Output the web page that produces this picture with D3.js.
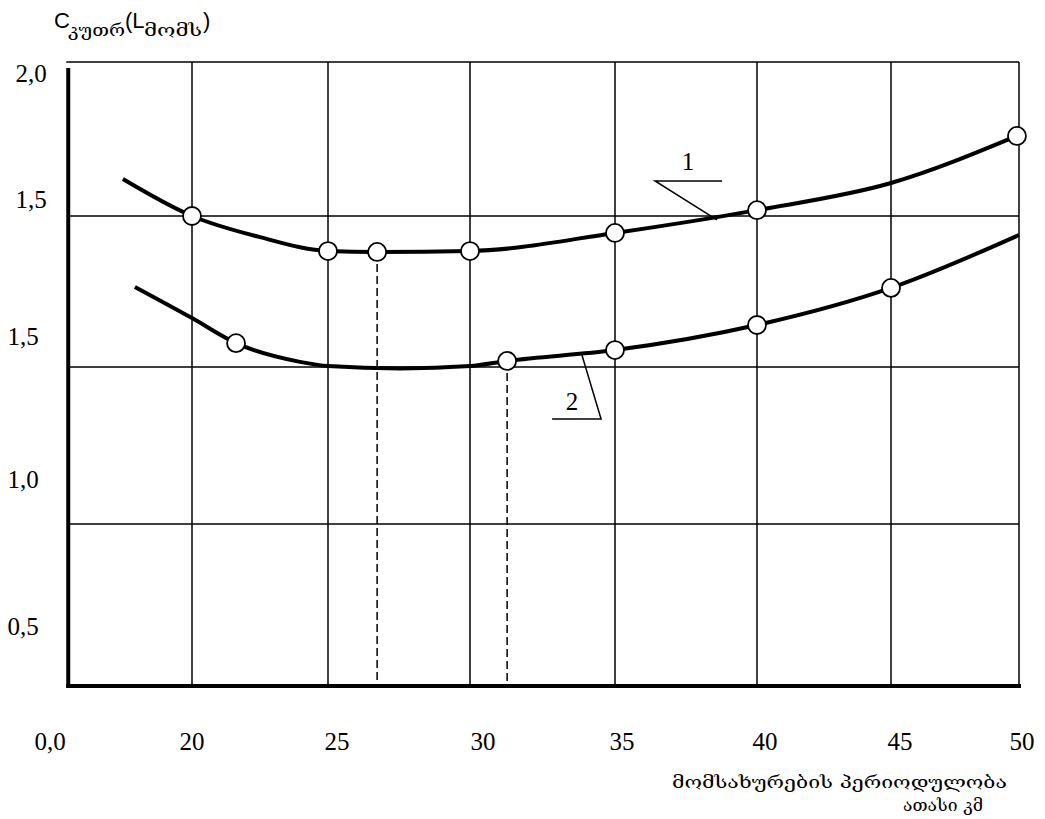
<!DOCTYPE html>
<html>
<head>
<meta charset="utf-8">
<script src="https://cdn.jsdelivr.net/npm/d3@7/dist/d3.min.js"></script>
<style>
  html, body { margin: 0; padding: 0; background: #fff; }
  svg { display: block; }
</style>
</head>
<body>
<svg id="chart" width="1045" height="819"></svg>
<script>
// ---------------- data ----------------
const xGridValues = [20, 25, 30, 35, 40, 45];
const xFrame = [15.45, 50];
const yGridValues = [0.5, 1.0, 1.5];
const yFrame = [0, 2];

const xTickLabels = ["0,0", "20", "25", "30", "35", "40", "45", "50"];
const xTickAt     = [14.78, 20, 25.32, 30.45, 35.25, 40.3, 45.35, 50.12];
const xLabelLevel = -0.197;

const yTickLabels = ["2,0", "1,5", "1,5", "1,0", "0,5"];
const yTickAt     = [1.935, 1.526, 1.073, 0.615, 0.157];

const curve1X      = [17.46, 20, 22.5, 25, 26.73, 30, 35, 40, 45, 49.92];
const curve1Y      = [1.62, 1.50, 1.43, 1.384, 1.381, 1.384, 1.444, 1.519, 1.607, 1.76];
const curve1Marked = [0, 1, 0, 1, 1, 1, 1, 1, 0, 1];

const curve2X      = [17.9, 20, 21.62, 23.97, 25, 27.54, 30, 31.28, 35, 40, 45, 50];
const curve2Y      = [1.265, 1.162, 1.079, 1.017, 1.003, 0.995, 1.003, 1.02, 1.056, 1.139, 1.262, 1.437];
const curve2Marked = [0, 0, 1, 0, 0, 0, 0, 1, 1, 1, 1, 0];

// drop lines: [curve number, point index]
const dropLines = [[1, 4], [2, 7]];

const leader1 = [[38.77, 1.614], [36.41, 1.614], [38.59, 1.487]];
const leader1Text = { label: "1", x: 37.57, y: 1.65 };
const leader2 = [[32.83, 0.834], [34.52, 0.834], [33.86, 1.04]];
const leader2Text = { label: "2", x: 33.52, y: 0.863 };

const titleParts = ["C", "კუთრ", "(L", "მომს", ")"];
const xTitleLines = ["მომსახურების პერიოდულობა", "ათასი კმ"];

// ---------------- scales ----------------
const x = d3.scaleLinear()
  .domain([20, 25, 30, 35, 40, 45, 50])
  .range([192, 328, 470, 615, 757, 891, 1019]);
const y = d3.scaleLinear()
  .domain([0, 0.5, 1.0, 1.5, 2.0])
  .range([686, 524, 367, 216, 62]);

const svg = d3.select("#chart");
const serif = "Liberation Serif, Times New Roman, serif";
const geo = "DejaVu Serif, DejaVu Sans, serif";
const sans = "Liberation Sans, Arial, sans-serif";

// ---------------- grid ----------------
const grid = svg.append("g").attr("stroke", "#000").attr("stroke-width", 1.5);
grid.selectAll("line.v").data(xGridValues).join("line")
  .attr("class", "v")
  .attr("x1", d => x(d)).attr("x2", d => x(d))
  .attr("y1", y(yFrame[1])).attr("y2", y(yFrame[0]));
grid.selectAll("line.h").data(yGridValues).join("line")
  .attr("class", "h")
  .attr("x1", x(xFrame[0])).attr("x2", x(xFrame[1]))
  .attr("y1", d => y(d)).attr("y2", d => y(d));
grid.append("line")
  .attr("x1", x(xFrame[0]) - 2).attr("x2", x(xFrame[1]))
  .attr("y1", y(yFrame[1])).attr("y2", y(yFrame[1]));
grid.append("line")
  .attr("x1", x(xFrame[1])).attr("x2", x(xFrame[1]))
  .attr("y1", y(yFrame[1])).attr("y2", y(yFrame[0]));

// ---------------- drop lines ----------------
const curves = { 1: [curve1X, curve1Y], 2: [curve2X, curve2Y] };
svg.append("g").selectAll("line").data(dropLines).join("line")
  .attr("x1", d => x(curves[d[0]][0][d[1]]))
  .attr("x2", d => x(curves[d[0]][0][d[1]]))
  .attr("y1", d => y(curves[d[0]][1][d[1]]))
  .attr("y2", y(yFrame[0]))
  .attr("stroke", "#000").attr("stroke-width", 1.5)
  .attr("stroke-dasharray", "8,4");

// ---------------- main axes (thick) ----------------
svg.append("line")
  .attr("x1", x(xFrame[0])).attr("x2", x(xFrame[0]))
  .attr("y1", y(yFrame[1]) + 6).attr("y2", y(yFrame[0]) + 2)
  .attr("stroke", "#000").attr("stroke-width", 4);
svg.append("line")
  .attr("x1", x(xFrame[0]) - 2).attr("x2", x(xFrame[1]) + 2)
  .attr("y1", y(yFrame[0])).attr("y2", y(yFrame[0]))
  .attr("stroke", "#000").attr("stroke-width", 4);

// ---------------- curves ----------------
const line = d3.line()
  .x(d => x(d[0])).y(d => y(d[1]))
  .curve(d3.curveMonotoneX);
const series = [
  { xs: curve1X, ys: curve1Y, m: curve1Marked },
  { xs: curve2X, ys: curve2Y, m: curve2Marked }
];
series.forEach(s => {
  const pts = s.xs.map((v, i) => [v, s.ys[i]]);
  svg.append("path").datum(pts)
    .attr("d", line)
    .attr("fill", "none").attr("stroke", "#000").attr("stroke-width", 4);
});
series.forEach(s => {
  const pts = s.xs.map((v, i) => [v, s.ys[i], s.m[i]]).filter(p => p[2]);
  svg.append("g").selectAll("circle").data(pts).join("circle")
    .attr("cx", d => x(d[0])).attr("cy", d => y(d[1]))
    .attr("r", 9)
    .attr("fill", "#fff").attr("stroke", "#000").attr("stroke-width", 1.8);
});

// ---------------- leaders ----------------
const lline = d3.line().x(d => x(d[0])).y(d => y(d[1]));
[[leader1, leader1Text], [leader2, leader2Text]].forEach(([pts, t]) => {
  svg.append("path").datum(pts).attr("d", lline)
    .attr("fill", "none").attr("stroke", "#000").attr("stroke-width", 1.5);
  svg.append("text")
    .attr("x", x(t.x)).attr("y", y(t.y))
    .attr("text-anchor", "middle")
    .style("font-family", serif).style("font-size", "25px")
    .text(t.label);
});

// ---------------- tick labels ----------------
svg.append("g").selectAll("text").data(xTickLabels).join("text")
  .attr("x", (d, i) => x(xTickAt[i]))
  .attr("y", y(xLabelLevel))
  .attr("text-anchor", "middle")
  .style("font-family", serif).style("font-size", "25px")
  .text(d => d);
svg.append("g").selectAll("text").data(yTickLabels).join("text")
  .attr("x", (d, i) => i < 2 ? 31 : 23)
  .attr("y", (d, i) => y(yTickAt[i]))
  .attr("text-anchor", "middle")
  .style("font-family", serif).style("font-size", "25px")
  .text(d => d);

// ---------------- titles ----------------
const tg = svg.append("g");
tg.append("text").attr("x", 54).attr("y", 28)
  .style("font-family", sans).style("font-size", "22px")
  .text(titleParts[0]);
tg.append("text").attr("x", 68).attr("y", 36)
  .style("font-family", geo).style("font-size", "16px")
  .attr("textLength", 57).attr("lengthAdjust", "spacingAndGlyphs")
  .text(titleParts[1]);
tg.append("text").attr("x", 125).attr("y", 28)
  .style("font-family", sans).style("font-size", "22px")
  .text(titleParts[2]);
tg.append("text").attr("x", 144).attr("y", 36)
  .style("font-family", geo).style("font-size", "16px")
  .attr("textLength", 58).attr("lengthAdjust", "spacingAndGlyphs")
  .text(titleParts[3]);
tg.append("text").attr("x", 203).attr("y", 28)
  .style("font-family", sans).style("font-size", "22px")
  .text(titleParts[4]);

svg.append("text").attr("x", 672).attr("y", 788)
  .style("font-family", geo).style("font-size", "17px")
  .attr("textLength", 335).attr("lengthAdjust", "spacingAndGlyphs")
  .text(xTitleLines[0]);
svg.append("text").attr("x", 903).attr("y", 811)
  .style("font-family", geo).style("font-size", "17px")
  .attr("textLength", 80).attr("lengthAdjust", "spacingAndGlyphs")
  .text(xTitleLines[1]);
</script>
</body>
</html>
